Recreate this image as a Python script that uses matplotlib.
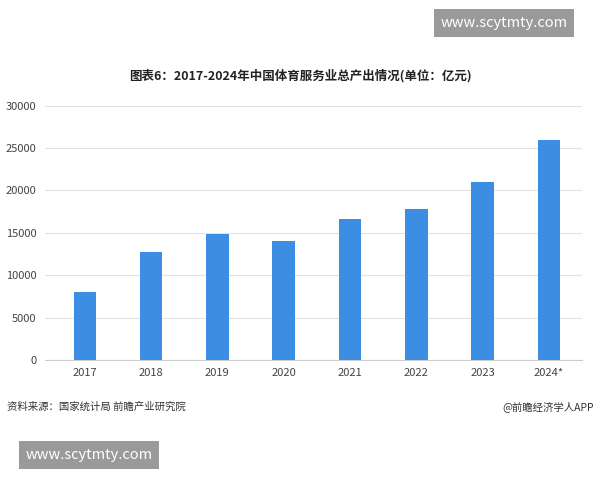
import matplotlib
matplotlib.use("Agg")
import matplotlib.pyplot as plt

plt.rcParams['font.family'] = ['Noto Sans CJK SC', 'DejaVu Sans']

years = ["2017", "2018", "2019", "2020", "2021", "2022", "2023", "2024*"]
values = [8000, 12700, 14820, 14000, 16590, 17760, 20940, 26000]
yticks = [0, 5000, 10000, 15000, 20000, 25000, 30000]

fig = plt.figure(figsize=(6, 4.8), dpi=100)
ax = fig.add_axes([0.075, 0.25, 0.895, 0.53])
ax.bar(range(len(years)), values, width=0.34, color="#3c8ee2", zorder=3)
ax.set_xticks(range(len(years)))
ax.set_xticklabels(years, fontsize=8, color="#444444")
ax.set_yticks(yticks)
ax.set_yticklabels([str(v) for v in yticks], fontsize=8, color="#444444")
ax.set_ylim(0, 30000)
ax.set_xlim(-0.6, 7.5)
ax.grid(axis='y', color="#e3e3e3", linewidth=0.8, zorder=0)
for s in ["top", "right", "left"]:
    ax.spines[s].set_visible(False)
ax.spines["bottom"].set_color("#cccccc")
ax.tick_params(length=0, pad=6)

fig.text(0.5, 0.843, "图表6：2017-2024年中国体育服务业总产出情况(单位：亿元)", ha="center",
         va="center", fontsize=9, fontweight="bold", color="#222222")
fig.text(0.012, 0.153, "资料来源：国家统计局 前瞻产业研究院", fontsize=7.5, color="#333333", va="center")
fig.text(0.99, 0.153, "@前瞻经济学人APP", fontsize=7.5, color="#333333", va="center", ha="right")
fig.text(0.84, 0.952, "www.scytmty.com", fontsize=10.5, color="white", ha="center", va="center",
         bbox=dict(boxstyle="square,pad=0.45", fc="#9a9a9a", ec="none"))
fig.text(0.148, 0.052, "www.scytmty.com", fontsize=10.5, color="white", ha="center", va="center",
         bbox=dict(boxstyle="square,pad=0.45", fc="#9a9a9a", ec="none"))

fig.savefig("out.png", dpi=100)
